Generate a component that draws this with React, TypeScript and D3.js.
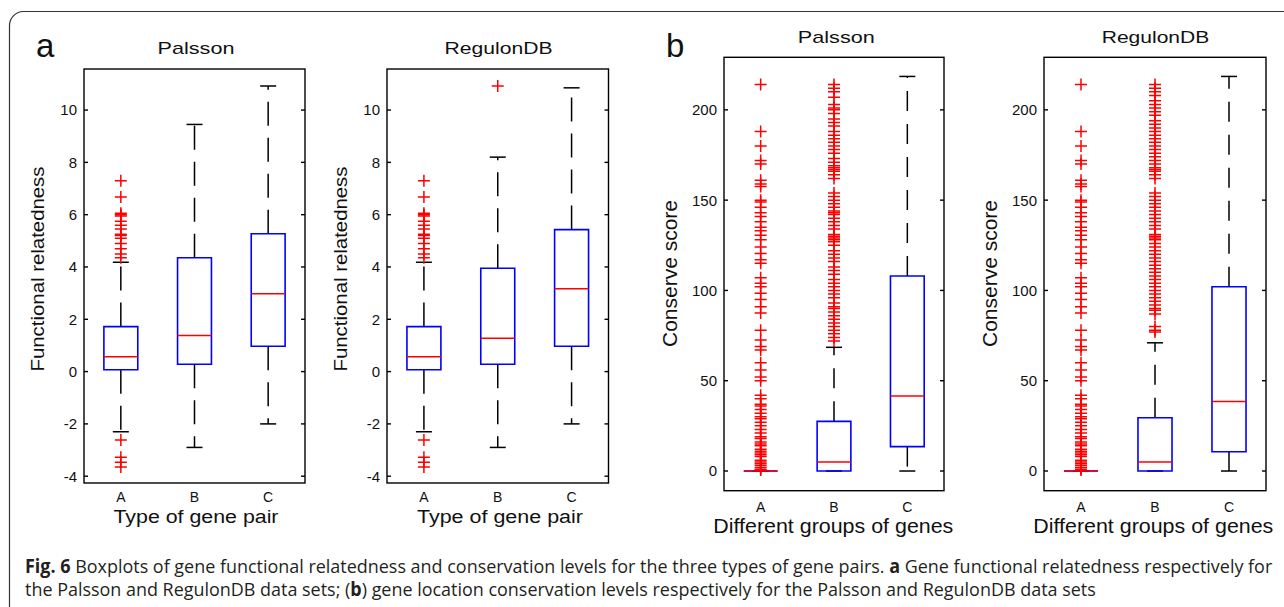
import React, { useLayoutEffect, useRef, useState } from 'react';
import * as d3 from 'd3';

// ---- data ----
const categories = ['A', 'B', 'C'];

const relTicks = [-4, -2, 0, 2, 4, 6, 8, 10];
const consTicks = [0, 50, 100, 150, 200];

type Stat = { lo: number; q1: number; med: number; q3: number; hi: number };

const relPalssonStats: Stat[] = [
  { lo: -2.3, q1: 0.07, med: 0.57, q3: 1.72, hi: 4.18 },
  { lo: -2.9, q1: 0.28, med: 1.38, q3: 4.35, hi: 9.45 },
  { lo: -2.0, q1: 0.97, med: 2.98, q3: 5.27, hi: 10.92 },
];
const relRegulonStats: Stat[] = [
  { lo: -2.3, q1: 0.07, med: 0.57, q3: 1.72, hi: 4.18 },
  { lo: -2.9, q1: 0.28, med: 1.27, q3: 3.95, hi: 8.2 },
  { lo: -2.0, q1: 0.97, med: 3.17, q3: 5.43, hi: 10.85 },
];
const consPalssonStats: Stat[] = [
  { lo: 0, q1: 0, med: 0, q3: 0, hi: 0 },
  { lo: 0, q1: 0, med: 5, q3: 27.5, hi: 68.5 },
  { lo: 0, q1: 13.5, med: 41.5, q3: 108, hi: 218.5 },
];
const consRegulonStats: Stat[] = [
  { lo: 0, q1: 0, med: 0, q3: 0, hi: 0 },
  { lo: 0, q1: 0, med: 5, q3: 29.5, hi: 71 },
  { lo: 0, q1: 10.7, med: 38.5, q3: 102, hi: 218.5 },
];

const relOutliersA = [7.3, 6.68, 6.05, 6.0, 5.95, 5.75, 5.6, 5.45, 5.25, 5.2, 5.1, 4.9, 4.7, 4.5, 4.35, -2.62, -3.28, -3.47, -3.65];
const relRegulonOutliersB = [10.92];

const consOutliersA = [
  214, 188, 180, 172, 170, 161, 159, 157.5, 150, 149, 146, 143, 141, 138, 135, 133, 130.5, 128, 124,
  120.5, 117, 115, 107, 104, 102, 98.5, 95, 91, 87.5, 78, 72.5, 69, 67, 60, 56, 52, 50, 42, 40, 37,
  36, 34, 32, 30, 29, 27, 25, 23, 21, 19, 18, 16, 15, 14, 12, 11, 10, 9, 8, 6, 5, 4, 3, 2, 1, 0.5,
];
const consPalssonOutliersB = [
  214, 212, 210, 207, 203, 201, 200, 198, 195, 193, 191, 188, 186, 184, 182, 180, 178, 176, 173, 171,
  169, 168, 167, 166, 164, 162, 154, 152, 150, 148, 146, 144, 143, 142, 140, 138, 136, 134, 131, 130,
  129, 128, 127, 125, 122, 120, 118, 116, 113, 111, 109, 106, 104, 102, 100, 98, 96, 93, 91, 90, 88,
  86, 84, 82, 80, 78, 76, 74, 72,
];
const consRegulonOutliersB = [
  214, 212, 210, 208, 205, 203, 201, 199, 197, 194, 192, 190, 188, 186, 184, 182, 180, 178, 176, 174,
  172, 170, 168, 167, 166, 164, 162, 154, 152, 150, 148, 146, 144, 142, 140, 138, 136, 134, 131, 130,
  129, 128, 126, 124, 122, 120, 118, 116, 114, 112, 110, 108, 106, 104, 102, 100, 98, 96, 94, 92, 90,
  89, 87, 80, 78, 77,
];

const caption1 = ['Fig. 6', ' Boxplots of gene functional relatedness and conservation levels for the three types of gene pairs. ', 'a', ' Gene functional relatedness respectively for'];
const caption2 = ['the Palsson and RegulonDB data sets; (', 'b', ') gene location conservation levels respectively for the Palsson and RegulonDB data sets'];

const FONT = 'Liberation Sans, Arial, sans-serif';

interface PanelProps {
  box: { left: number; top: number; right: number; bottom: number };
  yDomain: [number, number];
  yTicks: number[];
  stats: Stat[];
  outliers: number[][];
  title: string;
  titleX: number;
  titleY: number;
  titleLen: number;
  ylabel: string;
  ylabelX: number;
  ylabelY: number;
  ylabelLen: number;
  xlabel: string;
  xlabelX: number;
  xlabelY: number;
  xlabelLen: number;
  labelSize: number;
  tickY: number;
  dash: string;
}

const Panel: React.FC<PanelProps> = (p) => {
  const { left, top, right, bottom } = p.box;
  const x = d3.scaleLinear().domain([0.5, 3.5]).range([left, right]);
  const y = d3.scaleLinear().domain(p.yDomain).range([bottom, top]);
  const bw = x(1.23) - x(1);
  const cap = 8;
  const ms = 6;

  return (
    <g>
      <text x={p.titleX} y={p.titleY} fontSize={17} fontFamily={FONT} textAnchor="middle"
        textLength={p.titleLen} lengthAdjust="spacingAndGlyphs" fill="#111">{p.title}</text>

      {p.stats.map((s, i) => {
        const cx = x(i + 1);
        return (
          <g key={i}>
            <line x1={cx} x2={cx} y1={y(s.q3)} y2={y(s.hi)} stroke="#000" strokeWidth={1.5} strokeDasharray={p.dash} />
            <line x1={cx} x2={cx} y1={y(s.q1)} y2={y(s.lo)} stroke="#000" strokeWidth={1.5} strokeDasharray={p.dash} />
            <line x1={cx - cap} x2={cx + cap} y1={y(s.hi)} y2={y(s.hi)} stroke="#000" strokeWidth={1.5} />
            <line x1={cx - cap} x2={cx + cap} y1={y(s.lo)} y2={y(s.lo)} stroke="#000" strokeWidth={1.5} />
            <path d={`M${cx - bw},${y(s.q1)}H${cx + bw}V${y(s.q3)}H${cx - bw}Z`} fill="none" stroke="#0000ff" strokeWidth={1.6} />
            <line x1={cx - bw} x2={cx + bw} y1={y(s.med)} y2={y(s.med)} stroke="#ff0000" strokeWidth={1.5} />
            {p.outliers[i].map((v, j) => (
              <path key={j} d={`M${cx - ms},${y(v)}H${cx + ms}M${cx},${y(v) - ms}V${y(v) + ms}`} stroke="#ff0000" strokeWidth={1.5} fill="none" />
            ))}
          </g>
        );
      })}

      <rect x={left} y={top} width={right - left} height={bottom - top} fill="none" stroke="#000" strokeWidth={1.4} />
      {p.yTicks.map((t) => (
        <g key={t}>
          <line x1={left} x2={left + 4} y1={y(t)} y2={y(t)} stroke="#000" strokeWidth={1.4} />
          <line x1={right - 4} x2={right} y1={y(t)} y2={y(t)} stroke="#000" strokeWidth={1.4} />
          <text x={left - 7} y={y(t)} dy="0.36em" textAnchor="end" fontSize={15} fontFamily={FONT} fill="#111">{t}</text>
        </g>
      ))}
      {categories.map((c, i) => (
        <text key={c} x={x(i + 1)} y={p.tickY} textAnchor="middle" fontSize={14} fontFamily={FONT} fill="#111">{c}</text>
      ))}
      <text x={p.xlabelX} y={p.xlabelY} textAnchor="middle" fontSize={p.labelSize} fontFamily={FONT}
        textLength={p.xlabelLen} lengthAdjust="spacingAndGlyphs" fill="#111">{p.xlabel}</text>
      <text transform={`translate(${p.ylabelX},${p.ylabelY}) rotate(-90)`} textAnchor="middle" fontSize={p.labelSize}
        fontFamily={FONT} textLength={p.ylabelLen} lengthAdjust="spacingAndGlyphs" fill="#111">{p.ylabel}</text>
    </g>
  );
};

const Caption: React.FC = () => {
  const l1 = useRef<SVGTextElement>(null);
  const [sx, setSx] = useState(0.85);
  const startX = 25;

  useLayoutEffect(() => {
    if (!l1.current) return;
    const w1 = l1.current.getComputedTextLength();
    setSx((1273 - startX) / w1);
  }, []);

  return (
    <g transform={`translate(${startX},0) scale(${sx},1)`} fontFamily="Open Sans, sans-serif" fontSize={19} fill="#231f20">
      <text ref={l1} x={0} y={573} style={{ whiteSpace: 'pre' }}>
        <tspan fontWeight="bold">{caption1[0]}</tspan>
        <tspan>{caption1[1]}</tspan>
        <tspan fontWeight="bold">{caption1[2]}</tspan>
        <tspan>{caption1[3]}</tspan>
      </text>
      <text x={0} y={596} style={{ whiteSpace: 'pre' }}>
        <tspan>{caption2[0]}</tspan>
        <tspan fontWeight="bold">{caption2[1]}</tspan>
        <tspan>{caption2[2]}</tspan>
      </text>
    </g>
  );
};

export default function App() {
  return (
    <div style={{ position: 'absolute', left: 0, top: 0 }}>
      <svg width={1284} height={607} style={{ display: 'block', background: '#fff' }}>
        <rect x={9.5} y={11.5} width={1300} height={640} rx={14} ry={14} fill="none" stroke="#333" strokeWidth={1.2} />

        <text x={36} y={57} fontSize={33} fontFamily={FONT} fill="#111">a</text>
        <text x={666} y={56.5} fontSize={33} fontFamily={FONT} fill="#111">b</text>

        <Panel
          box={{ left: 84, top: 69, right: 305, bottom: 483 }}
          yDomain={[-4.26, 11.57]} yTicks={relTicks} stats={relPalssonStats}
          outliers={[relOutliersA, [], []]}
          title="Palsson" titleX={196} titleY={54} titleLen={77}
          ylabel="Functional relatedness" ylabelX={44} ylabelY={269} ylabelLen={205}
          xlabel="Type of gene pair" xlabelX={196} xlabelY={523} xlabelLen={165}
          labelSize={18} tickY={502} dash="24 12"
        />
        <Panel
          box={{ left: 387, top: 69, right: 608.5, bottom: 483 }}
          yDomain={[-4.26, 11.57]} yTicks={relTicks} stats={relRegulonStats}
          outliers={[relOutliersA, relRegulonOutliersB, []]}
          title="RegulonDB" titleX={498.5} titleY={54} titleLen={108}
          ylabel="Functional relatedness" ylabelX={347} ylabelY={269} ylabelLen={205}
          xlabel="Type of gene pair" xlabelX={500} xlabelY={523} xlabelLen={166}
          labelSize={18} tickY={502} dash="24 12"
        />
        <Panel
          box={{ left: 724, top: 57.3, right: 944, bottom: 490.7 }}
          yDomain={[-10.9, 229.1]} yTicks={consTicks} stats={consPalssonStats}
          outliers={[consOutliersA, consPalssonOutliersB, []]}
          title="Palsson" titleX={836.3} titleY={43} titleLen={77}
          ylabel="Conserve score" ylabelX={677} ylabelY={273.5} ylabelLen={147}
          xlabel="Different groups of genes" xlabelX={833.3} xlabelY={533} xlabelLen={240}
          labelSize={20} tickY={512} dash="20 13"
        />
        <Panel
          box={{ left: 1044, top: 57.3, right: 1266, bottom: 490.7 }}
          yDomain={[-10.9, 229.1]} yTicks={consTicks} stats={consRegulonStats}
          outliers={[consOutliersA, consRegulonOutliersB, []]}
          title="RegulonDB" titleX={1155.5} titleY={43} titleLen={107.6}
          ylabel="Conserve score" ylabelX={997} ylabelY={273.5} ylabelLen={147}
          xlabel="Different groups of genes" xlabelX={1153.3} xlabelY={533} xlabelLen={240}
          labelSize={20} tickY={512} dash="20 13"
        />

        <Caption />
      </svg>
    </div>
  );
}
